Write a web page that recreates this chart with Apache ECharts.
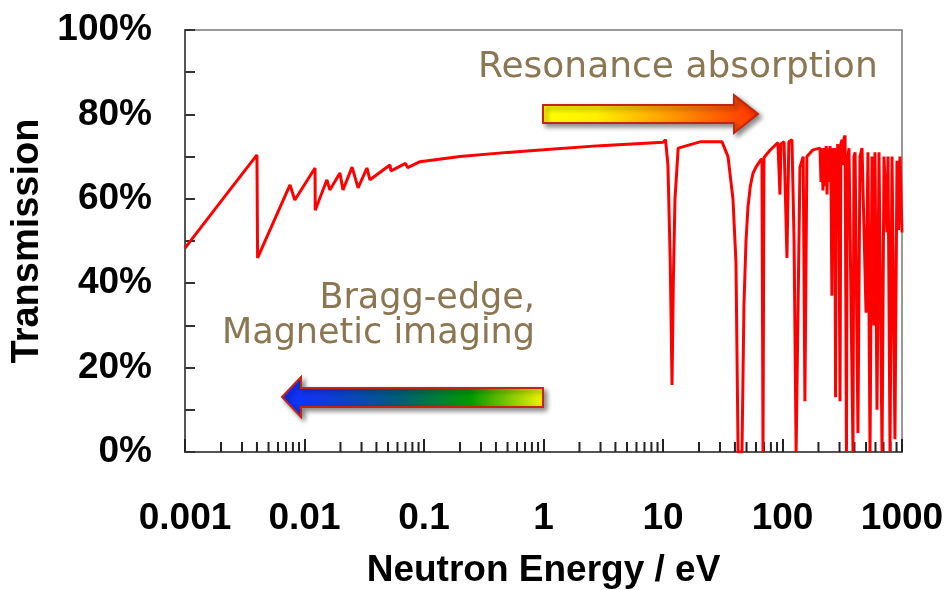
<!DOCTYPE html>
<html>
<head>
<meta charset="utf-8">
<script src="https://cdn.jsdelivr.net/npm/echarts@6/dist/echarts.min.js"></script>
<style>
  html, body { margin: 0; padding: 0; background: #fff; }
  #chart { width: 949px; height: 590px; }
</style>
</head>
<body>
<div id="chart"></div>
<script>
// neutron energy (eV) and transmission (%)
const energy = [
    0.001, 0.002, 0.004, 0.00405, 0.00756, 0.0083, 0.01225, 0.0123, 0.0154, 0.0163,
    0.0198, 0.021, 0.025, 0.0281, 0.0333, 0.0353, 0.0519, 0.053, 0.07, 0.073,
    0.0926, 0.2, 0.5, 1, 3, 10,
    10.5, 11.0, 11.5, 11.9, 12.2, 12.6, 13.4, 20.4, 31.2, 35.0, 38.5, 40.8,
    42.5, 45.8, 47.6, 49.5, 51.4, 53.8, 56.6, 60.0, 64.9, 67.3, 68.7, 70.0, 78.6,
    91.6, 95.2, 97.1, 103, 109, 113, 120, 125, 130, 133,
    140, 149, 154, 160, 180, 206,
    210, 214, 218, 223, 227, 232, 236, 240, 245, 250,
    255, 259, 264, 270, 274, 278, 282, 286, 290, 296,
    303, 308, 315, 322, 328, 334, 343, 348, 353, 360,
    367, 389, 396, 405, 428, 445, 463,
    500, 519, 540, 561, 583, 594, 618, 642, 681, 707,
    748, 764, 794, 825, 873, 908, 935, 962, 1000
];
const transmission = [
    48.3, 59.4, 70.4, 46.0, 63.3, 59.7, 67.3, 57.3, 64.5, 62.1,
    66.1, 62.1, 67.5, 62.6, 67.3, 64.5, 68.0, 66.6, 68.4, 67.4,
    68.8, 70.0, 71.0, 71.6, 72.6, 73.4,
    74.0, 68.0, 45.0, 15.9, 40.0, 60.0, 72.0, 73.5, 73.5, 70.0, 60.0, 45.0,
    0, 0, 35.0, 50.0, 58.0, 63.0, 66.0, 67.5, 69.0, 69.5, 0, 69.8, 71.5,
    73.3, 61.0, 73.0, 73.5, 46.0, 73.5, 74.0, 50.0, 0, 0,
    67.5, 70.0, 12.0, 70.0, 71.6, 72.0,
    64.0, 72.0, 62.0, 72.0, 63.0, 72.5, 61.0, 72.0, 64.0, 72.5,
    63.0, 37.0, 72.0, 65.0, 72.0, 13.0, 72.0, 66.0, 73.0, 64.0,
    12.0, 73.0, 74.0, 68.0, 74.5, 75.0, 0, 68.0, 70.0, 72.0,
    72.0, 0, 70.0, 71.0, 4.5, 70.0, 72.0,
    33.0, 71.0, 0, 70.0, 30.0, 71.0, 10.0, 71.0, 0, 70.0,
    52.0, 70.0, 0, 70.0, 3.0, 69.0, 52.6, 70.0, 52.0
];
const xLabels = ['0.001', '0.01', '0.1', '1', '10', '100', '1000'];
const decades = [0.001, 0.01, 0.1, 1, 10, 100];
const minorSteps = [2, 3, 4, 5, 6, 7, 8, 9];

const minorTicks = [];
decades.forEach(function (d) {
    minorSteps.forEach(function (k) { minorTicks.push([k * d, 0]); });
});

const boldFont = 'Liberation Sans';
const noteColor = '#8b7652';

let myChart = echarts.init(document.getElementById('chart'));

function arrowStyle(stops) {
    return {
        fill: new echarts.graphic.LinearGradient(0, 0, 1, 0, stops),
        stroke: '#c3250f',
        lineWidth: 2,
        shadowBlur: 5,
        shadowColor: 'rgba(0,0,0,0.45)',
        shadowOffsetX: 3,
        shadowOffsetY: 3
    };
}

let option = {
    backgroundColor: '#fff',
    animation: false,
    grid: {
        left: 185, right: 47, top: 30, bottom: 138,
        outerBoundsMode: 'none',
        containLabel: false,
        show: true,
        borderColor: '#777',
        borderWidth: 1.5
    },
    xAxis: {
        type: 'log',
        logBase: 10,
        min: 0.001,
        max: 1000,
        name: 'Neutron Energy / eV',
        nameLocation: 'middle',
        nameGap: 100,
        nameTextStyle: { fontFamily: boldFont, fontWeight: 'bold', fontSize: 37, color: '#000' },
        axisLine: { lineStyle: { color: '#555', width: 2 } },
        axisTick: { inside: true, length: 13, lineStyle: { color: '#222', width: 2 } },
        axisLabel: {
            margin: 48,
            fontFamily: boldFont, fontWeight: 'bold', fontSize: 37, color: '#000',
            formatter: function (v) {
                return xLabels[Math.round(Math.log10(v)) + 3];
            }
        },
        splitLine: { show: false }
    },
    yAxis: {
        type: 'value',
        min: 0,
        max: 100,
        interval: 20,
        name: 'Transmission',
        nameLocation: 'middle',
        nameGap: 138,
        nameTextStyle: { fontFamily: boldFont, fontWeight: 'bold', fontSize: 38, color: '#000' },
        axisLine: { show: true, lineStyle: { color: '#555', width: 2 } },
        axisTick: { inside: true, length: 10, lineStyle: { color: '#333', width: 2 } },
        minorTick: { show: true, splitNumber: 2, length: 10, lineStyle: { color: '#333', width: 2 } },
        axisLabel: {
            margin: 33,
            fontFamily: boldFont, fontWeight: 'bold', fontSize: 37, color: '#000',
            formatter: '{value}%'
        },
        splitLine: { show: false }
    },
    series: [
        {
            type: 'line',
            data: energy.map(function (e, i) { return [e, transmission[i]]; }),
            showSymbol: false,
            sampling: 'none',
            lineStyle: { color: '#ff0000', width: 3 },
            z: 3
        },
        {
            type: 'custom',
            data: minorTicks,
            silent: true,
            renderItem: function (params, api) {
                let p = api.coord([api.value(0), api.value(1)]);
                return {
                    type: 'line',
                    shape: { x1: p[0], y1: p[1], x2: p[0], y2: p[1] - 10 },
                    style: { stroke: '#222', lineWidth: 2 }
                };
            },
            z: 2
        }
    ],
    graphic: [
        {
            type: 'polygon',
            shape: { points: [[543, 105], [734, 105], [734, 95], [758, 114], [734, 133], [734, 123], [543, 123]] },
            style: arrowStyle([
                { offset: 0, color: '#ffff00' },
                { offset: 0.25, color: '#fff000' },
                { offset: 0.55, color: '#ffa400' },
                { offset: 1, color: '#ff3000' }
            ]),
            z: 10
        },
        {
            type: 'polygon',
            shape: { points: [[282, 397], [301, 377], [301, 388], [543, 388], [543, 407], [301, 407], [301, 417]] },
            style: arrowStyle([
                { offset: 0, color: '#1030ff' },
                { offset: 0.15, color: '#1038e8' },
                { offset: 0.45, color: '#005e78' },
                { offset: 0.72, color: '#009a00' },
                { offset: 1, color: '#f4f400' }
            ]),
            z: 10
        },
        {
            type: 'text',
            x: 478, y: 68,
            style: {
                text: 'Resonance absorption',
                fontFamily: 'DejaVu Sans', fontSize: 36, fill: noteColor,
                align: 'left', verticalAlign: 'middle'
            },
            z: 10
        },
        {
            type: 'text',
            x: 535, y: 299,
            style: {
                text: 'Bragg-edge,',
                fontFamily: 'DejaVu Sans', fontSize: 35, fill: noteColor,
                align: 'right', verticalAlign: 'middle'
            },
            z: 10
        },
        {
            type: 'text',
            x: 535, y: 334,
            style: {
                text: 'Magnetic imaging',
                fontFamily: 'DejaVu Sans', fontSize: 35, fill: noteColor,
                align: 'right', verticalAlign: 'middle'
            },
            z: 10
        }
    ]
};

myChart.setOption(option);
</script>
</body>
</html>
